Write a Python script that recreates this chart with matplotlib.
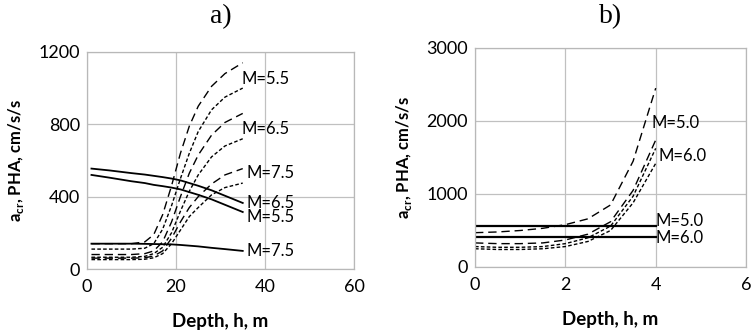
import matplotlib
matplotlib.use("Agg")
import matplotlib.pyplot as plt

plt.rcParams['font.family'] = ['Lato', 'DejaVu Sans']

# panel a) depth in m
depth_a = [1, 5, 10, 13, 15, 17, 19, 21, 23, 25, 28, 31, 35]
acr_a_55 = [520, 505, 485, 475, 465, 458, 450, 440, 425, 410, 385, 355, 315]
acr_a_65 = [555, 545, 530, 522, 515, 508, 500, 490, 475, 460, 435, 405, 365]
acr_a_75 = [140, 140, 140, 139, 138, 137, 136, 133, 129, 125, 117, 110, 100]
pha_a_55_long = [140, 140, 140, 150, 190, 300, 460, 640, 790, 900, 1010, 1080, 1140]
pha_a_55_short = [110, 110, 110, 115, 140, 220, 350, 500, 640, 760, 880, 950, 1000]
pha_a_65_long = [80, 80, 80, 85, 100, 150, 260, 400, 530, 630, 740, 810, 860]
pha_a_65_short = [65, 65, 65, 70, 85, 120, 200, 320, 430, 520, 620, 680, 720]
pha_a_75_long = [60, 60, 60, 62, 72, 100, 170, 260, 340, 400, 470, 520, 555]
pha_a_75_short = [52, 52, 52, 54, 62, 85, 140, 215, 290, 340, 410, 450, 475]

# panel b)
depth_b = [0, 0.5, 1, 1.5, 2, 2.5, 3, 3.5, 4]
acr_b_50 = [560] * 9
acr_b_60 = [410] * 9
pha_b_1 = [470, 480, 500, 530, 580, 660, 850, 1450, 2450]
pha_b_2 = [330, 320, 320, 330, 370, 450, 620, 1050, 1740]
pha_b_3 = [280, 270, 270, 280, 320, 400, 560, 970, 1625]
pha_b_4 = [250, 240, 240, 250, 280, 350, 500, 880, 1420]

LONG = (0, (6, 3.5))
SHORT = (0, (2.6, 1.6))

fig = plt.figure(figsize=(7.52, 3.34), dpi=100)
ax1 = fig.add_axes([0.1157, 0.1946, 0.355, 0.65])
ax2 = fig.add_axes([0.6317, 0.2006, 0.3604, 0.6557])


def style(ax):
    ax.grid(True, color='#c0c0c0', linewidth=0.9)
    ax.set_axisbelow(True)
    for s in ax.spines.values():
        s.set_color('#b8b8b8')
        s.set_linewidth(0.9)
    ax.tick_params(length=0, labelsize=13)
    ax.tick_params(axis='x', pad=7)
    ax.tick_params(axis='y', pad=5)
    ax.set_xlabel('Depth, h, m', fontsize=13.5, fontweight='bold', labelpad=13)
    ax.set_ylabel('a$_{\\mathregular{cr}}$, PHA, cm/s/s', fontsize=12,
                  fontweight='bold', labelpad=9)


# a)
for y in (acr_a_55, acr_a_65, acr_a_75):
    ax1.plot(depth_a, y, color='black', lw=1.3)
for y in (pha_a_55_long, pha_a_65_long, pha_a_75_long):
    ax1.plot(depth_a, y, color='black', lw=1.0, linestyle=LONG)
for y in (pha_a_55_short, pha_a_65_short, pha_a_75_short):
    ax1.plot(depth_a, y, color='black', lw=1.0, linestyle=SHORT)
ax1.set_xlim(0, 60)
ax1.set_ylim(0, 1200)
ax1.set_xticks([0, 20, 40, 60])
ax1.set_yticks([0, 400, 800, 1200])
for xx, yy, t in [(34.8, 1050, 'M=5.5'), (34.8, 775, 'M=6.5'), (35.8, 530, 'M=7.5'),
                  (35.8, 365, 'M=6.5'), (35.8, 285, 'M=5.5'), (35.8, 101, 'M=7.5')]:
    ax1.text(xx, yy, t, fontsize=12, va='center', ha='left')
style(ax1)
ax1.set_title('a)', family='Liberation Serif', fontsize=20, pad=21)

# b)
ax2.plot(depth_b, acr_b_50, color='black', lw=1.6)
ax2.plot(depth_b, acr_b_60, color='black', lw=1.6)
ax2.plot(depth_b, pha_b_1, color='black', lw=1.0, linestyle=LONG)
ax2.plot(depth_b, pha_b_2, color='black', lw=1.0, linestyle=LONG)
ax2.plot(depth_b, pha_b_3, color='black', lw=1.0, linestyle=SHORT)
ax2.plot(depth_b, pha_b_4, color='black', lw=1.0, linestyle=SHORT)
ax2.set_xlim(0, 6)
ax2.set_ylim(0, 3000)
ax2.set_xticks([0, 2, 4, 6])
ax2.set_yticks([0, 1000, 2000, 3000])
for xx, yy, t in [(3.9, 1970, 'M=5.0'), (4.06, 1520, 'M=6.0'),
                  (4.0, 630, 'M=5.0'), (4.0, 400, 'M=6.0')]:
    ax2.text(xx, yy, t, fontsize=12, va='center', ha='left')
style(ax2)
ax2.set_title('b)', family='Liberation Serif', fontsize=20, pad=18)

fig.savefig('out.png', dpi=100)
